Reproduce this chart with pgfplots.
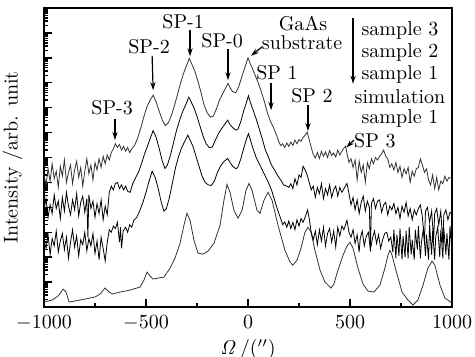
\documentclass[border=0pt]{standalone}
\usepackage{pgfplots}
\pgfplotsset{compat=1.18}
\usetikzlibrary{arrows.meta}
\begin{document}
\begin{tikzpicture}
\begin{axis}[name=ax,
  width=204pt, height=149.5pt, scale only axis,
  xmin=-1000, xmax=1000, ymin=0, ymax=12,
  axis line style={line width=0.9pt},
  xtick={-1000,-500,0,500,1000},
  minor xtick={-750,-250,250,750},
  ytick={0,1,2,3,4,5,6,7,8,9,10,11,12},
  minor ytick={0.301,0.477,0.602,0.699,0.778,0.845,0.903,0.954,
   1.301,1.477,1.602,1.699,1.778,1.845,1.903,1.954,
   2.301,2.477,2.602,2.699,2.778,2.845,2.903,2.954,
   3.301,3.477,3.602,3.699,3.778,3.845,3.903,3.954,
   4.301,4.477,4.602,4.699,4.778,4.845,4.903,4.954,
   5.301,5.477,5.602,5.699,5.778,5.845,5.903,5.954,
   6.301,6.477,6.602,6.699,6.778,6.845,6.903,6.954,
   7.301,7.477,7.602,7.699,7.778,7.845,7.903,7.954,
   8.301,8.477,8.602,8.699,8.778,8.845,8.903,8.954,
   9.301,9.477,9.602,9.699,9.778,9.845,9.903,9.954,
   10.301,10.477,10.602,10.699,10.778,10.845,10.903,10.954,
   11.301,11.477,11.602,11.699,11.778,11.845,11.903,11.954},
  yticklabels={},
  tick align=inside,
  xtick pos=lower, ytick pos=left,
  major tick length=3.8pt, minor tick length=2pt,
  every tick/.style={black, line width=0.7pt},
  xticklabel style={yshift=-1pt, /pgf/number format/1000 sep={}},
  xlabel={$\mathit{\Omega}\,/('')$},
  xlabel style={yshift=2.5pt},
  ylabel={Intensity /arb. unit},
  ylabel style={at={(axis description cs:-0.035,0.5)}, anchor=south},
  clip=false,
  cycle list={{black!80, line width=0.4pt, mark=none}},
]
% simulation
\addplot coordinates {(-1000,0.20) (-960,0.28) (-931,0.44) (-906,0.72) (-892,0.60) (-877,0.20) (-848,0.24) (-799,0.32) (-750,0.40) (-725,0.52) (-701,0.76) (-686,0.64) (-666,0.52) (-627,0.60) (-578,0.68) (-529,0.80) (-510,1.08) (-495,1.40) (-480,1.24) (-466,1.12) (-441,1.16) (-412,1.20) (-382,1.56) (-358,1.96) (-333,2.56) (-314,3.28) (-299,3.76) (-284,3.48) (-265,2.68) (-245,2.16) (-221,2.12) (-196,2.24) (-167,2.56) (-137,3.28) (-118,4.28) (-103,4.92) (-88,4.60) (-69,3.88) (-49,3.56) (-29,3.88) (-10,4.68) (5,4.96) (20,4.68) (44,3.88) (59,3.76) (78,4.28) (98,4.60) (118,4.28) (147,3.28) (181,2.28) (206,1.80) (220,1.68) (240,1.88) (260,2.36) (279,3.00) (294,3.20) (309,3.00) (328,2.28) (353,1.48) (377,1.00) (392,0.88) (407,0.76) (421,0.92) (441,1.48) (466,2.08) (485,2.44) (500,2.60) (515,2.36) (539,1.56) (564,0.92) (588,0.64) (617,0.60) (647,0.88) (671,1.56) (686,2.08) (696,2.28) (706,2.08) (725,1.48) (755,0.60) (784,0.28) (809,0.08) (833,0.28) (858,0.88) (882,1.56) (902,1.84) (916,1.68) (941,0.88) (965,0.36) (1000,0.16)};
% sample 1
\addplot coordinates {(-1000,2.70) (-990,2.35) (-980,2.90) (-970,2.10) (-960,2.75) (-950,2.45) (-940,3.05) (-930,2.20) (-920,2.65) (-910,2.95) (-900,2.30) (-890,2.80) (-880,1.95) (-870,2.60) (-860,3.10) (-850,2.40) (-840,2.85) (-830,2.05) (-820,2.70) (-810,2.50) (-800,3.00) (-790,2.25) (-780,2.75) (-770,2.45) (-760,2.95) (-750,2.15) (-740,2.65) (-730,1.90) (-720,2.80) (-710,2.35) (-700,1.85) (-690,2.60) (-680,3.10) (-670,3.00) (-660,3.25) (-650,3.15) (-640,3.40) (-630,2.60) (-625,3.20) (-620,2.35) (-612,3.05) (-600,3.20) (-590,3.00) (-580,3.30) (-570,3.20) (-560,3.48) (-545,3.60) (-530,3.88) (-515,4.20) (-500,4.60) (-485,5.05) (-470,5.45) (-455,5.20) (-440,4.75) (-425,4.20) (-412,3.85) (-400,3.95) (-385,4.40) (-370,5.00) (-355,5.60) (-340,6.05) (-325,6.40) (-310,6.65) (-295,6.90) (-285,6.72) (-270,6.45) (-255,6.05) (-240,5.65) (-225,5.25) (-210,5.00) (-195,4.90) (-180,4.88) (-165,5.05) (-150,5.40) (-135,5.65) (-120,5.82) (-100,5.96) (-88,5.80) (-75,5.65) (-60,5.55) (-50,5.60) (-35,5.95) (-20,6.40) (-8,6.72) (2,6.96) (12,6.70) (25,6.35) (40,6.00) (55,5.75) (70,5.50) (85,5.25) (100,5.00) (115,4.70) (130,4.30) (145,3.90) (160,3.55) (170,3.30) (180,3.42) (190,3.20) (200,3.45) (210,3.15) (220,3.40) (230,3.10) (240,3.50) (250,3.25) (260,3.55) (270,3.40) (280,3.60) (292,3.90) (300,3.55) (310,3.00) (320,2.70) (330,3.05) (340,2.50) (350,3.10) (360,2.65) (370,3.20) (380,2.45) (390,2.95) (400,3.15) (410,2.60) (420,3.05) (430,2.40) (440,3.20) (450,2.85) (460,3.25) (470,3.10) (485,3.48) (495,3.00) (505,2.80) (515,3.10) (525,2.55) (535,2.90) (545,2.20) (550,2.75) (560,3.05) (570,2.45) (580,2.85) (590,3.00) (600,2.30) (610,2.75) (620,3.05) (630,2.55) (640,2.90) (650,2.35) (660,2.70) (670,2.95) (680,3.00) (690,2.65) (700,2.80) (710,2.20) (715,3.10) (725,1.95) (730,2.90) (740,2.05) (745,3.15) (755,1.90) (760,2.85) (770,2.00) (775,3.05) (785,1.95) (790,3.20) (800,2.10) (805,2.70) (815,1.90) (820,3.10) (830,2.30) (835,3.25) (845,1.95) (850,2.60) (860,3.15) (870,2.05) (875,2.90) (885,1.90) (890,3.30) (900,2.10) (905,3.05) (915,1.90) (920,2.80) (930,3.20) (940,2.00) (945,3.10) (955,1.95) (960,3.15) (970,2.10) (975,2.95) (985,1.90) (990,3.25) (1000,2.20)};
% sample 2
\addplot coordinates {(-1000,3.90) (-990,4.35) (-980,3.60) (-970,4.10) (-960,3.75) (-950,4.50) (-940,3.95) (-930,4.25) (-920,3.55) (-910,4.40) (-900,3.85) (-890,4.60) (-880,4.05) (-870,3.70) (-860,4.30) (-850,3.90) (-840,4.55) (-830,3.65) (-820,4.20) (-810,4.45) (-800,3.80) (-790,4.35) (-785,2.80) (-780,4.50) (-770,3.95) (-760,4.25) (-750,3.60) (-740,4.15) (-730,3.75) (-720,4.30) (-710,3.50) (-700,4.05) (-690,3.70) (-680,4.60) (-670,4.85) (-660,4.70) (-650,4.95) (-640,5.00) (-630,4.75) (-620,4.90) (-610,4.70) (-600,4.85) (-590,4.65) (-578,4.60) (-565,4.95) (-550,5.20) (-535,5.45) (-520,5.80) (-505,6.20) (-495,6.40) (-480,6.75) (-465,7.08) (-450,6.80) (-435,6.35) (-420,5.85) (-407,5.56) (-395,5.70) (-380,6.10) (-365,6.60) (-350,7.10) (-335,7.50) (-320,7.85) (-305,8.12) (-290,8.42) (-278,8.22) (-265,8.00) (-250,7.65) (-235,7.25) (-220,6.85) (-205,6.55) (-190,6.40) (-175,6.42) (-160,6.70) (-145,6.95) (-130,7.15) (-115,7.32) (-100,7.50) (-88,7.32) (-75,7.20) (-60,7.10) (-50,7.12) (-35,7.45) (-20,7.90) (-8,8.20) (2,8.48) (12,8.20) (25,7.90) (40,7.55) (55,7.15) (70,6.75) (85,6.30) (100,6.02) (115,5.70) (130,5.50) (145,5.28) (160,5.10) (175,4.90) (190,4.85) (200,4.80) (210,4.95) (220,4.75) (230,5.15) (240,4.90) (250,5.30) (260,5.20) (270,5.65) (280,5.50) (290,5.30) (300,5.00) (310,4.70) (320,4.85) (330,4.40) (340,4.80) (350,4.55) (360,4.95) (370,4.35) (380,4.75) (390,4.50) (400,4.90) (410,4.40) (420,4.70) (430,4.85) (440,4.45) (450,4.80) (460,4.60) (470,4.75) (485,4.96) (495,4.55) (505,4.10) (515,4.40) (525,3.90) (535,4.30) (545,3.75) (555,4.20) (565,4.45) (575,3.85) (585,4.25) (595,4.00) (600,2.25) (605,4.15) (615,4.35) (625,3.95) (635,4.25) (645,4.30) (655,3.80) (665,4.10) (675,4.20) (685,3.70) (695,4.05) (705,3.90) (715,4.15) (725,3.75) (735,4.00) (745,3.55) (755,4.05) (765,3.80) (775,4.20) (785,3.65) (795,3.95) (805,3.50) (815,3.90) (825,3.70) (835,3.95) (845,4.10) (855,3.60) (865,2.60) (870,3.85) (880,4.00) (890,3.40) (900,3.85) (910,2.70) (915,3.75) (925,3.95) (935,3.30) (945,3.85) (955,2.55) (960,3.70) (970,3.90) (980,3.50) (990,3.80) (1000,3.75)};
% sample 3
\addplot coordinates {(-1000,5.30) (-990,4.90) (-980,5.55) (-970,5.05) (-960,5.75) (-950,5.15) (-940,5.45) (-930,4.80) (-920,5.65) (-910,5.25) (-900,5.90) (-890,5.00) (-880,5.40) (-870,5.70) (-860,4.95) (-850,5.50) (-840,5.85) (-830,5.20) (-820,5.60) (-810,4.85) (-800,5.45) (-790,5.95) (-780,5.35) (-770,5.70) (-760,5.10) (-750,5.80) (-740,5.50) (-730,5.95) (-720,5.60) (-710,6.05) (-700,5.75) (-690,6.10) (-680,5.90) (-670,6.20) (-660,6.35) (-650,6.55) (-640,6.40) (-630,6.52) (-620,6.30) (-610,6.45) (-600,6.25) (-590,6.40) (-580,6.20) (-570,6.35) (-555,6.50) (-540,6.80) (-525,7.20) (-510,7.65) (-495,8.05) (-480,8.30) (-465,8.50) (-450,8.22) (-435,7.85) (-420,7.50) (-405,7.28) (-390,7.40) (-375,7.70) (-360,8.10) (-345,8.55) (-330,9.00) (-315,9.40) (-300,9.72) (-288,9.98) (-275,9.74) (-260,9.45) (-245,9.05) (-230,8.60) (-215,8.10) (-200,7.80) (-185,7.62) (-170,7.66) (-155,7.95) (-140,8.30) (-125,8.55) (-110,8.78) (-98,8.98) (-88,8.80) (-75,8.64) (-60,8.60) (-45,8.85) (-30,9.25) (-15,9.62) (0,10.00) (10,9.78) (20,9.60) (35,9.30) (50,9.00) (65,8.65) (80,8.25) (95,7.80) (110,7.45) (125,7.20) (140,6.90) (150,6.65) (160,6.48) (170,6.55) (180,6.40) (190,6.58) (200,6.45) (210,6.62) (220,6.48) (230,6.70) (240,6.55) (250,6.72) (260,6.65) (270,6.80) (280,6.90) (290,7.02) (300,6.72) (310,6.40) (320,6.12) (330,5.98) (340,6.20) (350,5.96) (360,6.25) (370,6.05) (380,6.22) (390,6.00) (400,6.28) (410,6.08) (420,6.18) (430,6.02) (440,6.30) (450,6.10) (460,6.25) (470,6.38) (478,6.45) (488,6.05) (495,5.80) (505,5.95) (515,5.60) (525,5.90) (535,5.10) (545,5.85) (555,5.40) (565,5.70) (575,5.00) (585,5.80) (595,5.55) (605,5.95) (615,5.75) (625,6.00) (635,5.90) (645,6.05) (655,6.15) (665,6.30) (675,6.05) (685,5.95) (695,5.60) (705,5.75) (715,5.50) (725,5.80) (735,5.40) (745,5.65) (755,5.20) (765,5.55) (775,5.35) (785,5.60) (795,5.00) (805,5.45) (815,5.25) (825,5.55) (835,5.60) (845,5.95) (855,5.70) (865,5.40) (875,5.55) (885,5.10) (895,4.90) (905,5.30) (915,4.75) (925,5.20) (935,4.70) (945,5.05) (955,4.95) (965,5.25) (975,5.05) (985,5.20) (1000,5.15)};
% annotations
\begin{scope}[every node/.style={inner sep=0pt, font=\normalsize}]
\node at (axis cs:-666,8.0) {SP-3};
\node at (axis cs:-485,10.44) {SP-2};
\node at (axis cs:-318,11.44) {SP-1};
\node at (axis cs:-127,10.68) {SP-0};
\node at (axis cs:270,11.36) {GaAs};
\node at (axis cs:265,10.6) {substrate};
\node at (axis cs:142,9.4) {SP 1};
\node at (axis cs:314,8.48) {SP 2};
\node at (axis cs:622,6.68) {SP 3};
\node at (axis cs:745,11.08) {sample 3};
\node at (axis cs:745,10.20) {sample 2};
\node at (axis cs:745,9.32) {sample 1};
\node at (axis cs:745,8.44) {simulation};
\node at (axis cs:745,7.56) {sample 1};
\end{scope}
\begin{scope}[-{Stealth[length=4pt,width=2.6pt]}, line width=0.6pt, black]
\draw (axis cs:-652,7.56) -- (axis cs:-652,6.70);
\draw (axis cs:-470,10.08) -- (axis cs:-465,8.70);
\draw (axis cs:-284,11.12) -- (axis cs:-284,10.06);
\draw (axis cs:-98,10.36) -- (axis cs:-98,9.10);
\draw (axis cs:69,10.44) -- (axis cs:15,10.08);
\draw (axis cs:113,9.0) -- (axis cs:113,7.90);
\draw (axis cs:294,8.12) -- (axis cs:294,7.06);
\draw (axis cs:519,6.70) -- (axis cs:482,6.40);
\draw (axis cs:515,11.6) -- (axis cs:515,8.96);
\end{scope}
\end{axis}
\pgfresetboundingbox
\path ([shift={(-22pt,-25pt)}]ax.south west) rectangle ([shift={(11.5pt,4pt)}]ax.north east);
\end{tikzpicture}
\end{document}
